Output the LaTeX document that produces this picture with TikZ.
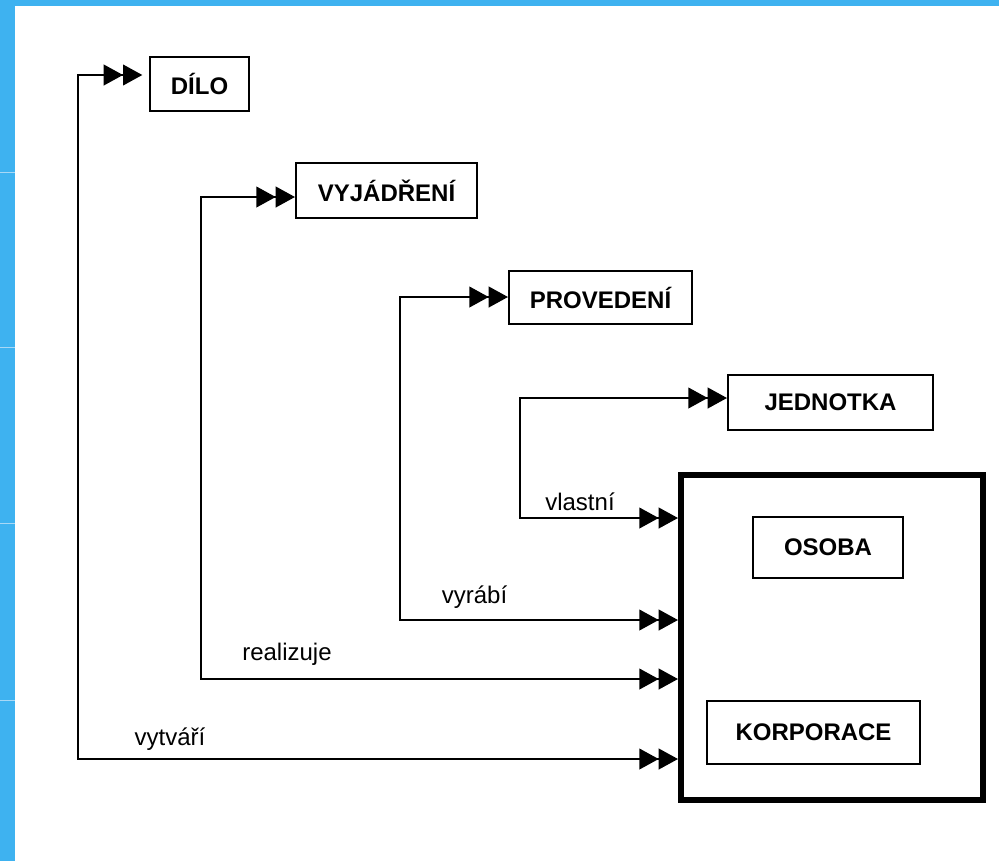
\documentclass[tikz,border=0pt]{standalone}
\usepackage{fontspec}
\setmainfont{Liberation Sans}
\usetikzlibrary{arrows.meta}
\definecolor{frameblue}{RGB}{62,178,240}
\definecolor{seamblue}{RGB}{168,216,246}
\begin{document}
\begin{tikzpicture}[x=0.75pt,y=-0.75pt,
  twotri/.tip={Triangle[length=14.5pt,width=15.5pt,sep=0pt]Triangle[length=14.5pt,width=15.5pt,sep=0pt]},
  boxsize/.style 2 args={minimum width=#1*0.75pt, minimum height=#2*0.75pt},
  box/.style={draw, line width=1.5pt, inner sep=0pt, font=\fontsize{18}{21}\selectfont\bfseries},
  frame/.style={draw, line width=4.5pt, inner sep=0pt},
  link/.style={line width=1.5pt, arrows={twotri-twotri}},
  verb/.style={anchor=base, inner sep=0pt, font=\fontsize{18}{21}\selectfont}]

% page and blue window edge
\useasboundingbox (0,0) rectangle (999,861);
\fill[white] (0,0) rectangle (999,861);
\fill[frameblue] (0,0) rectangle (999,6);
\fill[frameblue] (0,0) rectangle (15,861);
\foreach \yy in {172,347,523,700}
  \draw[seamblue, line width=0.75pt] (0,\yy) -- (15,\yy);

% entities
\node[box, boxsize={99}{54}]  (dilo)  at (199.5,84)  {DÍLO};
\node[box, boxsize={181}{55}] (vyj)   at (386.5,190.5) {VYJÁDŘENÍ};
\node[box, boxsize={183}{53}] (prov)  at (600.5,297.5) {PROVEDENÍ};
\node[box, boxsize={205}{55}] (jed)   at (830.5,402.5) {JEDNOTKA};
\node[frame, boxsize={302}{325}] (big) at (832,637.5) {};
\node[box, boxsize={150}{61}] (osoba) at (828,547.5) {OSOBA};
\node[box, boxsize={213}{63}] (korp)  at (813.5,732.5) {KORPORACE};

% elbows of the relationship lines
\coordinate (k1) at (78,75);   \coordinate (k1b) at (78,759);
\coordinate (k2) at (201,197); \coordinate (k2b) at (201,679);
\coordinate (k3) at (400,297); \coordinate (k3b) at (400,620);
\coordinate (k4) at (520,398); \coordinate (k4b) at (520,518);

% relationships
\draw[link, shorten <=5pt] (dilo.west |- k1) -- (k1) -- (k1b) -- (k1b -| big.west);
\draw[link] (vyj.west |- k2) -- (k2) -- (k2b) -- (k2b -| big.west);
\draw[link] (prov.west |- k3) -- (k3) -- (k3b) -- (k3b -| big.west);
\draw[link] (jed.west |- k4) -- (k4) -- (k4b) -- (k4b -| big.west);

% relationship names
\node[verb] (t4) at (580,510)   {vlastní};
\node[verb] (t3) at (474.5,603) {vyrábí};
\node[verb] (t2) at (287,660)   {realizuje};
\node[verb] (t1) at (170,745)   {vytváří};
\end{tikzpicture}
\end{document}
